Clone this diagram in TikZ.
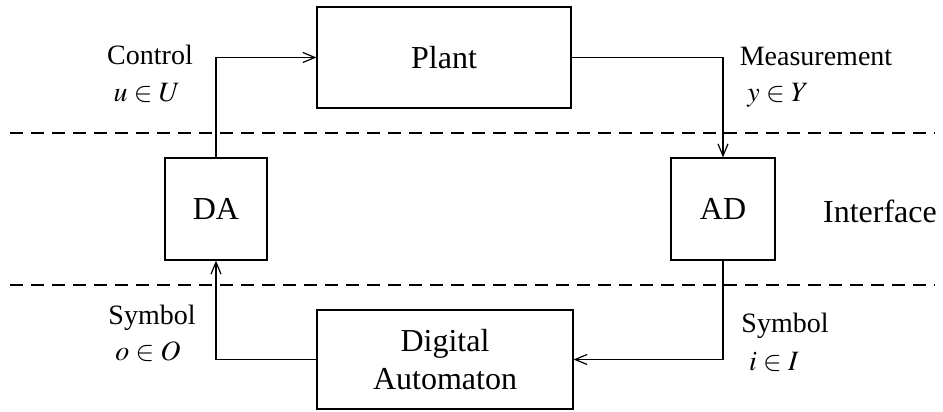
\documentclass[tikz,border=0pt]{standalone}
\usepackage{mathptmx}
\usepackage{fontspec}
\setmainfont{Liberation Serif}
\usetikzlibrary{arrows}
\usetikzlibrary{arrows.meta}
\usetikzlibrary{positioning}

\tikzset{
  blk/.style={draw, line width=0.6pt, inner sep=0pt, align=center,
    font=\fontsize{16}{19}\selectfont},
  lbl/.style={anchor=base, inner sep=0pt, font=\fontsize{14}{17}\selectfont},
  wire/.style={line width=0.6pt, -{Straight Barb[length=6pt,width=5pt]}},
  sep/.style={line width=0.6pt, dash pattern=on 6.5pt off 4pt}
}

\begin{document}
\begin{tikzpicture}[x=0.5pt, y=-0.5pt]
    \useasboundingbox (0,0) rectangle (943,412);

    \node[blk, minimum width=127pt, minimum height=50.5pt] (pl) at (444,57.5) {Plant};
    \node[blk, minimum width=51pt, minimum height=51pt] (da) at (216,209) {DA};
    \node[blk, minimum width=52pt, minimum height=51pt] (ad) at (723,209) {AD};
    \node[blk, minimum width=128pt, minimum height=49.5pt] (au) at (445,359.5) {Digital\\Automaton};

    % interface borders
    \coordinate (tl) at (10,133);
    \coordinate (tr) at (935,133);
    \coordinate (bl) at (10,285);
    \coordinate (br) at (935,285);
    \draw[sep] (tl) -- (tr);
    \draw[sep] (bl) -- (br);

    \node[lbl, font=\fontsize{16}{19}\selectfont] (ifc) at (880,222) {Interface};

    \node[lbl] (ctrl) at (150,64) {Control};
    \node[lbl] (u) at (147,101) {$u \in U$};
    \node[lbl] (meas) at (816,65) {Measurement};
    \node[lbl] (y) at (778,101) {$y \in Y$};
    \node[lbl] (symo) at (152,324) {Symbol};
    \node[lbl] (o) at (148,360) {$o \in O$};
    \node[lbl] (symi) at (785,332) {Symbol};
    \node[lbl] (i) at (774,370) {$i \in I$};

    \draw[wire] (da.north) |- (pl.west);
    \draw[wire] (pl.east) -| (ad.north);
    \draw[wire] (ad.south) |- (au.east);
    \draw[wire] (au.west) -| (da.south);
  \end{tikzpicture}
\end{document}
